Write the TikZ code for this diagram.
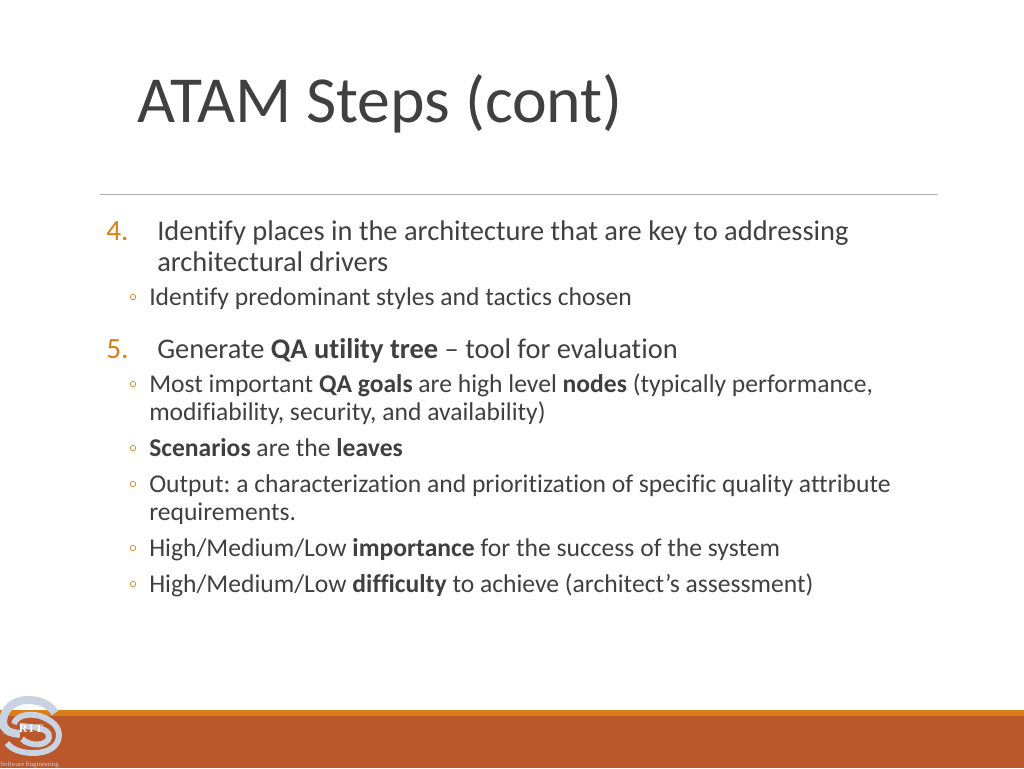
\documentclass[tikz,border=0pt]{standalone}
\usepackage{fontspec}
\setmainfont[RawFeature={-liga}]{Carlito}
\newfontfamily\logofont{Liberation Serif}
\definecolor{inkgray}{RGB}{64,64,64}
\definecolor{accentorange}{RGB}{217,127,24}
\definecolor{footerrust}{RGB}{186,88,44}
\definecolor{logoblue}{RGB}{200,210,224}
\tikzset{
  titletext/.style={anchor=base west,inner sep=0pt,text=inkgray,font=\fontsize{49.3}{50}\selectfont},
  steptext/.style={anchor=base west,inner sep=0pt,text=inkgray,font=\fontsize{21.33}{24}\selectfont},
  subtext/.style={anchor=base west,inner sep=0pt,text=inkgray,font=\fontsize{19.2}{22}\selectfont},
  stepnum/.style={anchor=base west,inner sep=0pt,text=accentorange,font=\fontsize{22}{24}\selectfont},
  ringbullet/.style={circle,draw=accentorange,line width=0.5pt,minimum size=4.2pt,inner sep=0pt},
  logoarc/.style={draw=logoblue,line width=4.4pt}
}
\begin{document}
\frenchspacing
\begin{tikzpicture}[x=0.75pt,y=0.75pt,yscale=-1,xscale=1]
\useasboundingbox (0,0) rectangle (1024,768);
\fill [white] (0,0) rectangle (1024,768);

%Title
\node [titletext] (title) at (137,122) {ATAM Steps (cont)};
\draw [color={rgb, 255:red, 175; green, 175; blue, 175 }] (100,194.5) -- (938,194.5);

%Step 4
\node [stepnum] (numfour) at (106,240) {4.};
\node [steptext] (stepfour) at (157,240) {Identify places in the architecture that are key to addressing};
\node [steptext] (stepfourb) at (157,271) {architectural drivers};
\node [ringbullet] (bulleta) at (133,297) {};
\node [subtext] (suba) at (149,305) {Identify predominant styles and tactics chosen};

%Step 5
\node [stepnum] (numfive) at (106,358) {5.};
\node [steptext] (stepfive) at (157,358) {Generate \textbf{QA utility tree} -- tool for evaluation};
\node [ringbullet] (bulletb) at (133,384) {};
\node [subtext] (subb) at (149,392) {Most important \textbf{QA goals} are high level \textbf{nodes} (typically performance,};
\node [subtext] (subbb) at (149,420) {modifiability, security, and availability)};
\node [ringbullet] (bulletc) at (133,448) {};
\node [subtext] (subc) at (149,456) {\textbf{Scenarios} are the \textbf{leaves}};
\node [ringbullet] (bulletd) at (133,484) {};
\node [subtext] (subd) at (149,492) {Output: a characterization and prioritization of specific quality attribute};
\node [subtext] (subdb) at (149,520) {requirements.};
\node [ringbullet] (bullete) at (133,548) {};
\node [subtext] (sube) at (149,556) {High/Medium/Low \textbf{importance} for the success of the system};
\node [ringbullet] (bulletf) at (133,584) {};
\node [subtext] (subf) at (149,592) {High/Medium/Low \textbf{difficulty} to achieve (architect’s assessment)};

%Footer bands
\fill [footerrust] (0,716) rectangle (1024,768);
\fill [accentorange] (0,710) rectangle (1024,716);

%Logo
\draw [logoarc,line width=6pt] (55,713) .. controls (49,703) and (38,700) .. (28,700) .. controls (12,700) and (3,711) .. (3,722) .. controls (3,729) and (8,733) .. (20,734);
\draw [logoarc] (14,724) .. controls (16,715) and (30,713) .. (40,716) .. controls (52,720) and (59,727) .. (59,735) .. controls (59,747) and (47,753) .. (34,753) .. controls (22,753) and (12,750) .. (7,743);
\draw [logoarc] (20,726) .. controls (30,727) and (50,727) .. (49,737) .. controls (48,746) and (30,747) .. (22,739);
\node [inner sep=0pt,text=white,font=\logofont\bfseries\fontsize{8.5}{9}\selectfont] (logort) at (31,729) {R\,I\,T};
\node [anchor=base west,inner sep=0pt,text=logoblue,font=\logofont\fontsize{5}{5}\selectfont] (logose) at (0,766) {Software Engineering};
\end{tikzpicture}
\end{document}
